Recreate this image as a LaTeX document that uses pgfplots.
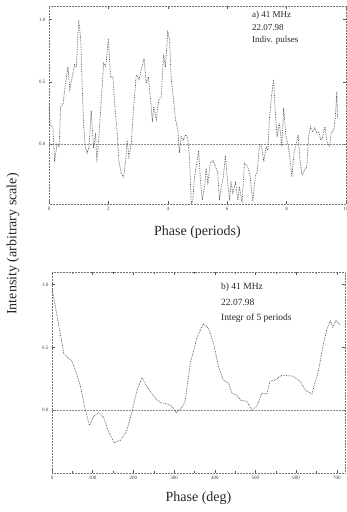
\documentclass[border=0pt]{standalone}
\usepackage{fontspec}
\setmainfont{Liberation Serif}
\usepackage{pgfplots}
\pgfplotsset{compat=1.18}
\begin{document}
\begin{tikzpicture}
\useasboundingbox (0pt,0pt) rectangle (347pt,512pt);
\pgfplotsset{
 every axis/.append style={
  scale only axis,
  axis line style={densely dotted, black!55, line width=0.5pt},
  tick style={black!65, line width=0.4pt},
  tick align=inside,
  major tick length=3pt,
  minor tick length=2pt,
  ticklabel style={font=\fontsize{5}{6}\selectfont, text=black!75},
  /pgf/number format/assume math mode=true,
  xlabel style={font=\fontsize{14}{16}\selectfont, text=black!85},
  ytick={0,0.5,1}, yticklabels={0.0,0.5,1.0},
  clip=true,
 }
}
% ---------- top panel ----------
\begin{axis}[at={(49pt,308pt)}, anchor=south west, width=297pt, height=198pt,
  xmin=0, xmax=10, ymin=-0.48, ymax=1.11, xtick={0,2,4,6,8,10},
  xlabel={Phase (periods)},
  xlabel style={at={(axis description cs:0.5,-0.141)}, anchor=center}]
\addplot[densely dotted, black!45, line width=0.5pt, forget plot] coordinates {(0,0) (10,0)};
\addplot[densely dotted, black!70, line width=0.7pt] coordinates {
(0.00,0.33) (0.04,0.16) (0.13,0.13) (0.19,-0.14) (0.27,0.00) (0.34,-0.02)
(0.39,0.30) (0.47,0.32) (0.56,0.50) (0.64,0.62) (0.70,0.44) (0.78,0.54)
(0.86,0.64) (0.92,0.62) (1.00,1.00) (1.07,0.84) (1.12,0.44) (1.17,0.14)
(1.22,-0.02) (1.28,-0.07) (1.35,-0.02) (1.42,0.27) (1.50,-0.03) (1.57,0.09)
(1.61,-0.14) (1.68,0.06) (1.76,0.36) (1.84,0.65) (1.91,0.62) (2.00,0.85)
(2.07,0.54) (2.15,0.54) (2.23,0.27) (2.29,0.115) (2.35,-0.13) (2.43,-0.23)
(2.51,-0.27) (2.58,-0.13) (2.63,0.035) (2.69,-0.10) (2.77,0.00) (2.85,0.30)
(2.94,0.56) (3.03,0.52) (3.11,0.60) (3.20,0.69) (3.27,0.49) (3.35,0.54)
(3.42,0.36) (3.48,0.18) (3.53,0.30) (3.61,0.20) (3.70,0.36) (3.78,0.38)
(3.86,0.72) (3.92,0.62) (4.00,0.90) (4.06,0.84) (4.11,0.54) (4.17,0.41)
(4.26,0.20) (4.34,0.115) (4.39,-0.07) (4.45,0.06) (4.53,0.035) (4.60,0.075)
(4.67,0.05) (4.73,-0.10) (4.79,-0.48) (4.84,-0.45) (4.90,-0.26) (4.96,-0.18)
(5.04,-0.05) (5.10,-0.29) (5.16,-0.45) (5.24,-0.34) (5.29,-0.19) (5.35,-0.31)
(5.43,-0.15) (5.52,-0.13) (5.61,-0.18) (5.68,-0.23) (5.74,-0.45) (5.80,-0.34)
(5.87,-0.26) (5.94,-0.09) (6.01,-0.29) (6.08,-0.45) (6.13,-0.31) (6.19,-0.39)
(6.28,-0.31) (6.36,-0.45) (6.41,-0.34) (6.50,-0.47) (6.58,-0.15) (6.69,-0.18)
(6.77,-0.25) (6.86,-0.46) (6.95,-0.25) (7.01,-0.22) (7.09,0.00) (7.16,-0.02)
(7.23,-0.14) (7.31,-0.02) (7.37,-0.05) (7.42,0.20) (7.48,0.36) (7.56,0.52)
(7.62,0.26) (7.68,0.06) (7.76,0.17) (7.84,-0.02) (7.90,0.29) (7.98,0.06)
(8.06,-0.02) (8.12,-0.13) (8.18,-0.26) (8.25,-0.07) (8.32,0.00) (8.39,0.075)
(8.45,-0.13) (8.52,-0.25) (8.60,-0.21) (8.68,-0.18) (8.74,0.06) (8.80,0.14)
(8.88,0.10) (8.95,0.13) (9.01,0.09) (9.08,0.10) (9.15,0.035) (9.22,0.06)
(9.29,0.14) (9.36,0.02) (9.44,-0.02) (9.51,0.10) (9.59,0.115) (9.64,0.21)
(9.69,0.42) (9.72,0.20)
};
\end{axis}
% ---------- bottom panel ----------
\begin{axis}[at={(52pt,39pt)}, anchor=south west, width=293pt, height=201pt,
  xmin=0, xmax=720, ymin=-0.50, ymax=1.10, xtick={0,100,...,700},
  minor x tick num=1,
  xlabel={Phase (deg)},
  xlabel style={at={(axis description cs:0.5,-0.124)}, anchor=center}]
\addplot[densely dotted, black!45, line width=0.5pt, forget plot] coordinates {(0,0) (720,0)};
\addplot[black!60, line width=0.6pt, forget plot] coordinates {(0,-0.5) (720,-0.5)};
\addplot[densely dotted, black!70, line width=0.7pt] coordinates {
(0,0.97) (12,0.76) (29,0.45) (49,0.39) (57,0.32) (70,0.19) (82,0.00)
(92,-0.12) (102,-0.05) (115,-0.02) (127,-0.06) (139,-0.17) (153,-0.26)
(168,-0.24) (183,-0.17) (196,-0.02) (209,0.16) (221,0.26) (233,0.19)
(250,0.11) (266,0.06) (282,0.05) (295,0.03) (305,-0.02) (319,0.02)
(327,0.07) (340,0.375) (356,0.575) (372,0.69) (385,0.65) (397,0.53)
(409,0.35) (421,0.24) (434,0.215) (442,0.135) (454,0.12) (463,0.08)
(479,0.07) (491,0.00) (503,0.03) (516,0.135) (528,0.13) (536,0.23)
(549,0.24) (565,0.28) (593,0.27) (610,0.23) (622,0.16) (639,0.13)
(655,0.32) (667,0.53) (675,0.64) (684,0.71) (690,0.66) (698,0.715) (708,0.68)
};
\end{axis}
% ---------- labels ----------
\node[rotate=90, font=\fontsize{14}{16}\selectfont, text=black!85] at (13pt,268pt) {Intensity (arbitrary scale)};
\begin{scope}[every node/.style={anchor=base west, inner sep=0pt, font=\fontsize{9}{10}\selectfont, text=black!85}]
\node at (252pt,494pt) {a) 41 MHz};
\node at (252pt,481pt) {22.07.98};
\node at (252pt,469pt) {Indiv. pulses};
\end{scope}
\begin{scope}[every node/.style={anchor=base west, inner sep=0pt, font=\fontsize{9.5}{10}\selectfont, text=black!85}]
\node at (221pt,222pt) {b) 41 MHz};
\node at (221pt,206pt) {22.07.98};
\node at (221pt,191pt) {Integr of 5 periods};
\end{scope}
\end{tikzpicture}
\end{document}
